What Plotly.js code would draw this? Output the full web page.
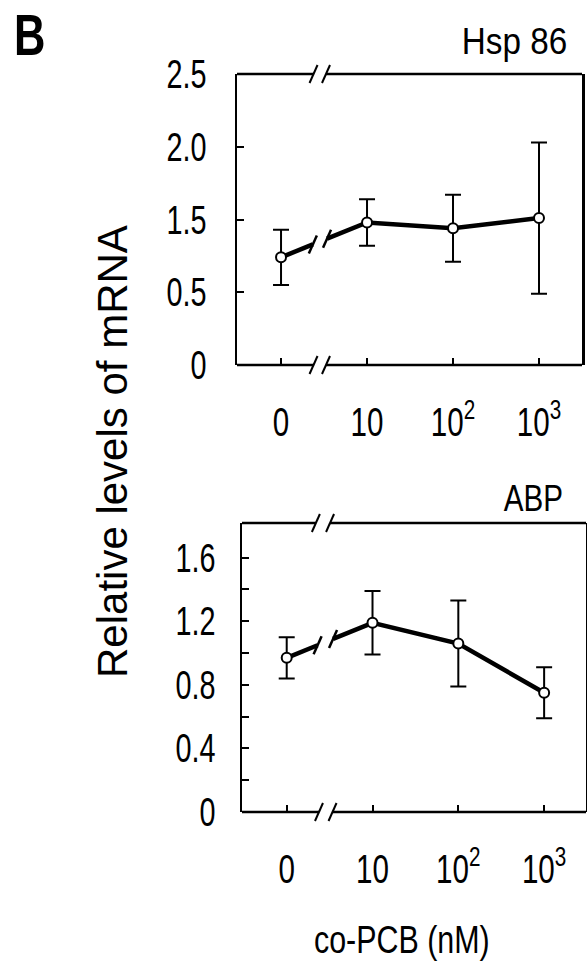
<!DOCTYPE html>
<html><head><meta charset="utf-8">
<script src="https://cdn.plot.ly/plotly-3.0.1.min.js"></script>
<style>html,body{margin:0;padding:0;background:#fff}#chart{width:587px;height:962px}</style>
</head><body><div id="chart"></div>
<script>
// ---- data ----
const categories = ['0', '10', '10<sup>2</sup>', '10<sup>3</sup>'];
const hspMean = [0.74, 0.98, 0.94, 1.01];
const hspErr  = [0.19, 0.16, 0.23, 0.52];
const abpMean = [0.97, 1.19, 1.06, 0.75];
const abpErr  = [0.13, 0.20, 0.27, 0.16];
const hspTickVals = [0, 0.5, 1.0, 1.5, 2.0];
const hspTickText = ['0', '0.5', '1.5', '2.0', '2.5'];
const abpTickVals = [0, 0.4, 0.8, 1.2, 1.6];
const abpTickText = ['0', '0.4', '0.8', '1.2', '1.6'];
const abpMinorVals = [0.2, 0.6, 1.0, 1.4];

const FONT = '"Liberation Sans", Arial, sans-serif';
const xs = categories.map((c, i) => i);

function interp(arr, u) { return arr[0] + (arr[1] - arr[0]) * u; }

function panel(mean, err, xa, ya, breakA, breakB) {
  const traces = [];
  const yA = interp(mean, breakA), yB = interp(mean, breakB);
  traces.push({x: [xs[0], breakA], y: [mean[0], yA], xaxis: xa, yaxis: ya, mode: 'lines',
    line: {color: '#000', width: 4.5}, hoverinfo: 'skip', showlegend: false});
  traces.push({x: [breakB].concat(xs.slice(1)), y: [yB].concat(mean.slice(1)), xaxis: xa, yaxis: ya, mode: 'lines',
    line: {color: '#000', width: 4.5}, hoverinfo: 'skip', showlegend: false});
  traces.push({x: xs, y: mean, xaxis: xa, yaxis: ya, mode: 'markers',
    marker: {size: 10, color: '#fff', line: {color: '#000', width: 2}},
    error_y: {type: 'data', array: err, visible: true, color: '#000', thickness: 2, width: 8},
    showlegend: false});
  return {traces, yA, yB};
}

const hspPanel = panel(hspMean, hspErr, 'x', 'y', 0.37, 0.535);
const abpPanel = panel(abpMean, abpErr, 'x2', 'y2', 0.36, 0.54);

const xr1 = [-0.512, 3.5], xr2 = [-0.521, 3.488];
const L = {color: '#000', width: 2.5};
const shapes = [];
function frameH(ax, ay, xr, yv, ga, gb) {
  shapes.push({type: 'line', xref: ax, yref: ay + ' domain', x0: xr[0], x1: ga, y0: yv, y1: yv, line: L});
  shapes.push({type: 'line', xref: ax, yref: ay + ' domain', x0: gb, x1: xr[1], y0: yv, y1: yv, line: L});
  [ga, gb].forEach(g => shapes.push({type: 'line', xref: ax, yref: ay + ' domain',
    xsizemode: 'pixel', xanchor: g, x0: -4, x1: 4,
    ysizemode: 'pixel', yanchor: yv, y0: -9, y1: 9, line: {color: '#000', width: 2}}));
}
frameH('x', 'y', xr1, 1, 0.378, 0.523);
frameH('x', 'y', xr1, 0, 0.378, 0.523);
frameH('x2', 'y2', xr2, 1, 0.34, 0.505);
frameH('x2', 'y2', xr2, 0, 0.376, 0.534);
function lineSlash(ax, ay, u, v) {
  shapes.push({type: 'line', xref: ax, yref: ay, xsizemode: 'pixel', xanchor: u, x0: -4, x1: 4,
    ysizemode: 'pixel', yanchor: v, y0: -9, y1: 9, line: {color: '#000', width: 2.5}});
}
lineSlash('x', 'y', 0.37, hspPanel.yA); lineSlash('x', 'y', 0.535, hspPanel.yB);
lineSlash('x2', 'y2', 0.36, abpPanel.yA); lineSlash('x2', 'y2', 0.54, abpPanel.yB);

const tickFont = {family: FONT, size: 40, color: '#000'};
function xaxisDef(domain, anchor, range) {
  return {domain, anchor, range, tickvals: xs, ticktext: categories, ticks: 'inside', ticklen: 7,
    tickwidth: 2, tickcolor: '#000', showline: false, showgrid: false, zeroline: false,
    tickfont: tickFont, ticklabelstandoff: 30, fixedrange: true};
}
function yaxisDef(domain, anchor, range, tv, tt, standoff, minorVals) {
  const a = {domain, anchor, range, tickvals: tv, ticktext: tt, ticks: 'inside', ticklen: 7,
    tickwidth: 2, tickcolor: '#000', showline: true, mirror: true, linecolor: '#000', linewidth: 2.5,
    showgrid: false, zeroline: false, tickfont: tickFont, ticklabelstandoff: standoff, fixedrange: true};
  if (minorVals) a.minor = {tickvals: minorVals, ticks: 'inside', ticklen: 7, tickwidth: 2, tickcolor: '#000', showgrid: false};
  return a;
}

const layout = {
  width: 587, height: 962, margin: {l: 0, r: 0, t: 0, b: 0},
  paper_bgcolor: '#fff', plot_bgcolor: '#fff', showlegend: false,
  font: {family: FONT, color: '#000'},
  xaxis: xaxisDef([237/587, 582/587], 'y', xr1),
  yaxis: yaxisDef([1 - 365/962, 1 - 74/962], 'x', [0, 2.0], hspTickVals, hspTickText, 20),
  xaxis2: xaxisDef([242/587, 586/587], 'y2', xr2),
  yaxis2: yaxisDef([1 - 812/962, 1 - 523/962], 'x2', [0, 1.818], abpTickVals, abpTickText, 16, abpMinorVals),
  shapes,
  annotations: [
    {text: '<b>B</b>', xref: 'paper', yref: 'paper', x: 12/587, y: 1, xanchor: 'left', yanchor: 'top',
      showarrow: false, font: {family: FONT, size: 58, color: '#000'}},
    {text: 'Hsp 86', xref: 'paper', yref: 'paper', x: 569/587, y: 1 - 42/962, xanchor: 'right', yanchor: 'middle',
      showarrow: false, font: {family: FONT, size: 37, color: '#000'}},
    {text: 'ABP', xref: 'paper', yref: 'paper', x: 565/587, y: 1 - 499/962, xanchor: 'right', yanchor: 'middle',
      showarrow: false, font: {family: FONT, size: 37, color: '#000'}},
    {text: 'Relative levels of mRNA', xref: 'paper', yref: 'paper', x: 112/587, y: 1 - 452/962,
      xanchor: 'center', yanchor: 'middle', textangle: -90, showarrow: false,
      font: {family: FONT, size: 42, color: '#000'}},
    {text: 'co-PCB (nM)', xref: 'paper', yref: 'paper', x: 402/587, y: 1 - 940/962,
      xanchor: 'center', yanchor: 'middle', showarrow: false, font: {family: FONT, size: 38, color: '#000'}}
  ]
};

// squeeze a text element horizontally around its left / right / centre
function squeeze(t, s, mode) {
  const bb = t.getBBox();
  if (!bb.width) return;
  const ax = mode === 'left' ? bb.x : mode === 'right' ? bb.x + bb.width : bb.x + bb.width / 2;
  const prev = t.getAttribute('transform') || '';
  t.setAttribute('transform', prev + ' translate(' + ax + ',0) scale(' + s + ',1) translate(' + (-ax) + ',0)');
}

Plotly.newPlot('chart', [...hspPanel.traces, ...abpPanel.traces], layout, {displayModeBar: false, staticPlot: true})
  .then(() => {
    document.querySelectorAll('#chart .xtick text, #chart .x2tick text').forEach(t => squeeze(t, 0.74, 'center'));
    document.querySelectorAll('#chart .ytick text, #chart .y2tick text').forEach(t => squeeze(t, 0.72, 'right'));
    document.querySelectorAll('#chart .annotation-text').forEach(t => {
      const txt = t.textContent;
      if (txt === 'B') squeeze(t, 0.75, 'left');
      else if (txt === 'Hsp 86') squeeze(t, 0.9, 'right');
      else if (txt === 'ABP') squeeze(t, 0.8, 'right');
      else if (txt.indexOf('co-PCB') === 0) squeeze(t, 0.8, 'center');
    });
    // drop empty placeholder texts / zero-width trailing tspans
    document.querySelectorAll('#chart text').forEach(t => {
      if (!t.textContent.replace(/[\s\u200b]/g, '')) t.remove();
    });
    document.querySelectorAll('#chart tspan').forEach(sp => {
      if (!sp.textContent.replace(/[\s\u200b]/g, '') && !sp.nextSibling) sp.remove();
    });
  });
</script></body></html>
